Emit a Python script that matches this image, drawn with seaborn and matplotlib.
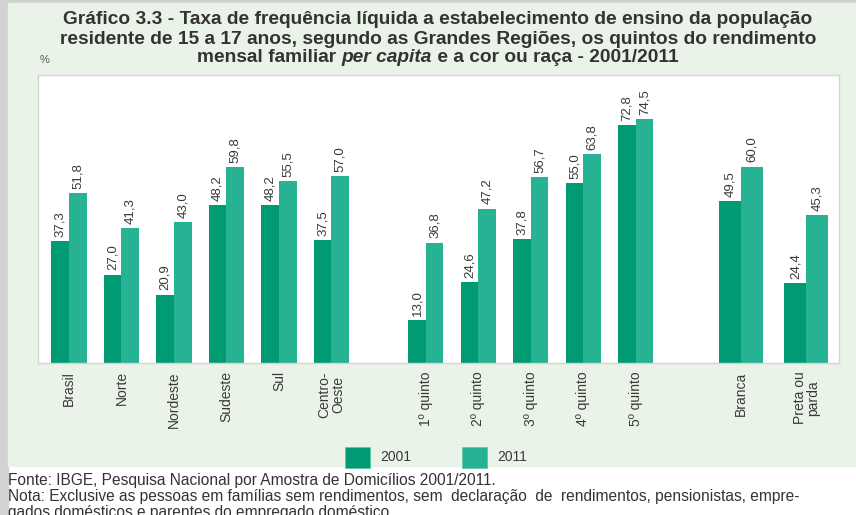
import pandas as pd
import matplotlib
matplotlib.use("Agg")
import matplotlib.pyplot as plt
from matplotlib.patches import Rectangle
import seaborn as sns

# Data
regioes = ["Brasil", "Norte", "Nordeste", "Sudeste", "Sul", "Centro-\nOeste"]
regioes_2001 = [37.3, 27.0, 20.9, 48.2, 48.2, 37.5]
regioes_2011 = [51.8, 41.3, 43.0, 59.8, 55.5, 57.0]

quintos = ["1º quinto", "2º quinto", "3º quinto", "4º quinto", "5º quinto"]
quintos_2001 = [13.0, 24.6, 37.8, 55.0, 72.8]
quintos_2011 = [36.8, 47.2, 56.7, 63.8, 74.5]

cor_raca = ["Branca", "Preta ou\nparda"]
cor_2001 = [49.5, 24.4]
cor_2011 = [60.0, 45.3]

anos = ["2001", "2011"]

# layout: slot positions on the x axis (groups separated by gaps)
pos_regioes = [0, 1, 2, 3, 4, 5]
pos_quintos = [6.8, 7.8, 8.8, 9.8, 10.8]
pos_cor = [12.8, 14.05]

colors = {"2001": "#009b72", "2011": "#27b294"}
green_bg = "#eaf3e7"
text_col = "#3a3a3a"


def long_df(pos, v1, v2):
    return pd.DataFrame({
        "pos": pos + pos,
        "valor": v1 + v2,
        "ano": ["2001"] * len(pos) + ["2011"] * len(pos),
    })


df_main = pd.concat([long_df(pos_regioes, regioes_2001, regioes_2011),
                     long_df(pos_quintos, quintos_2001, quintos_2011)])
df_cor = long_df(pos_cor, cor_2001, cor_2011)

W, H = 856, 515
fig = plt.figure(figsize=(W / 100, H / 100), dpi=100)
fig.patch.set_facecolor("white")


def px(x, y):
    return x / W, 1 - y / H


# background panels
fig.add_artist(Rectangle((0, 0), 8 / W, 1, transform=fig.transFigure,
                         color="#d2d2d2", zorder=-10))
fig.add_artist(Rectangle((8 / W, 1 - 3 / H), 1, 3 / H, transform=fig.transFigure,
                         color="#d2d2d2", zorder=-10))
fig.add_artist(Rectangle(px(8, 466), 1, (466 - 3) / H, transform=fig.transFigure,
                         color=green_bg, zorder=-10))

ax = fig.add_axes([38 / W, 1 - 363 / H, 801 / W, 288 / H])
ax.set_facecolor("white")

sns.barplot(data=df_main, x="pos", y="valor", hue="ano", hue_order=anos,
            palette=colors, native_scale=True, width=0.67, saturation=1,
            linewidth=0, legend=False, ax=ax)
sns.barplot(data=df_cor, x="pos", y="valor", hue="ano", hue_order=anos,
            palette=colors, native_scale=True, width=0.67, saturation=1,
            linewidth=0, legend=False, ax=ax)

# value labels
for cont in ax.containers:
    labels = [f"{v:.1f}".replace(".", ",") for v in cont.datavalues]
    ax.bar_label(cont, labels=labels, rotation=90, padding=3,
                 fontsize=9.5, color=text_col, family="Liberation Sans")

ax.set_xlim(-0.59, 14.67)
ax.set_ylim(0, 88)
ax.set_yticks([])
ax.set_xlabel("")
ax.set_ylabel("")
ax.set_xticks(pos_regioes + pos_quintos + pos_cor)
ax.set_xticklabels(regioes + quintos + cor_raca, rotation=90, va="top",
                   ha="center", fontsize=10, color=text_col,
                   family="Liberation Sans", linespacing=0.95)
ax.tick_params(axis="x", length=0, pad=6)
for s in ax.spines.values():
    s.set_color("#d4d4d4")
    s.set_linewidth(1)

# title (three centered lines, "per capita" in italic)
tfont = dict(family=["Liberation Sans", "DejaVu Sans"], fontsize=13.8,
             fontweight="bold", color="#333333", va="center")
fig.text(438 / W, 1 - 20 / H,
         "Gráfico 3.3 - Taxa de frequência líquida a estabelecimento de ensino da população",
         ha="center", **tfont)
fig.text(438 / W, 1 - 39 / H,
         "residente de 15 a 17 anos, segundo as Grandes Regiões, os quintos do rendimento",
         ha="center", **tfont)

parts = [("mensal familiar ", "normal"), ("per capita", "italic"),
         (" e a cor ou raça - 2001/2011", "normal")]
renderer = fig.canvas.get_renderer()
widths = []
for txt, st in parts:
    t = fig.text(0, 0, txt, style=st, **tfont)
    widths.append(t.get_window_extent(renderer).width)
    t.remove()
x0 = 438 - sum(widths) / 2
for (txt, st), w in zip(parts, widths):
    fig.text(x0 / W, 1 - 58 / H, txt, style=st, ha="left", **tfont)
    x0 += w

fig.text(40 / W, 1 - 60 / H, "%", fontsize=8, color="#555555",
         family="Liberation Sans", ha="left", va="center")

# legend
for i, ano in enumerate(anos):
    x = [345, 462][i]
    fig.add_artist(Rectangle(px(x, 468), 25 / W, 21 / H, transform=fig.transFigure,
                             facecolor=colors[ano], edgecolor="#5cc9a8", linewidth=0.6))
    fig.text((x + 35) / W, 1 - 457 / H, ano, fontsize=10, color=text_col,
             family="Liberation Sans", ha="left", va="center")

# footer
ffont = dict(family="Liberation Sans", fontsize=11.2, color="#333333",
             ha="left", va="center")
fig.text(8 / W, 1 - 481 / H,
         "Fonte: IBGE, Pesquisa Nacional por Amostra de Domicílios 2001/2011.", **ffont)
fig.text(8 / W, 1 - 497 / H,
         "Nota: Exclusive as pessoas em famílias sem rendimentos, sem  declaração  de  "
         "rendimentos, pensionistas, empre-", **ffont)
fig.text(8 / W, 1 - 512 / H,
         "gados domésticos e parentes do empregado doméstico.", **ffont)

fig.savefig("out.png", dpi=100)
